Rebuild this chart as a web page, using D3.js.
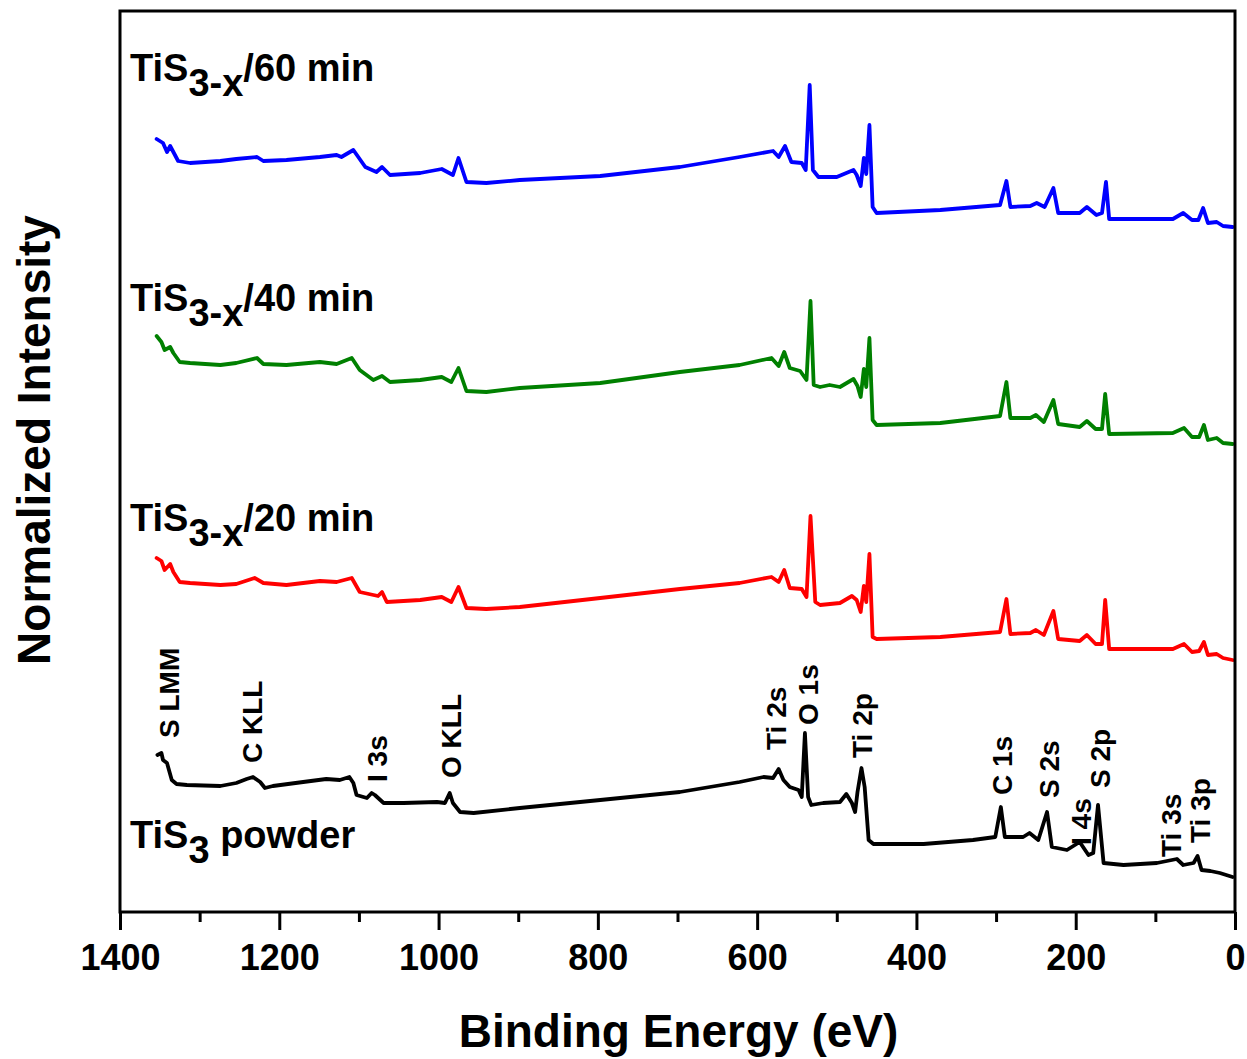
<!DOCTYPE html>
<html>
<head>
<meta charset="utf-8">
<script src="https://cdn.jsdelivr.net/npm/d3@7"></script>
<style>
  html, body { margin: 0; padding: 0; background: #fff; }
  svg { display: block; font-family: "Liberation Sans", Arial, sans-serif; font-weight: bold; }
</style>
</head>
<body>
<svg id="chart" width="1247" height="1059"></svg>
<script>
// XPS survey spectra, [binding energy (eV), intensity (a.u., stacked offsets)]
const powder = [
  [1353,157],[1348,159],[1346,152],[1341,149],[1335,132],[1329,128],[1316,127],[1274,126],
  [1254,129],[1241,133],[1233,135],[1224,130],[1218,124],[1208,126],[1170,130],[1141,133],
  [1124,132],[1112,135],[1107,129],[1103,117],[1090,114],[1084,119],[1080,117],[1069,109],
  [1044,109],[1002,110],[992,109],[986,119],[982,109],[973,100],[956,99],[898,104],
  [797,112],[697,120],[622,130],[592,135],[580,134],[573,143],[567,132],[559,125],
  [548,122],[544,115],[540,179],[536,115],[532,107],[517,109],[496,110],[488,118],
  [481,109],[477,100],[474,120],[469,144],[465,125],[460,72],[454,68],[391,68],
  [329,72],[301,75],[294,105],[289,75],[266,75],[258,79],[247,72],[236,100],
  [230,65],[211,62],[195,70],[184,57],[178,59],[172,107],[165,49],[140,47],
  [98,49],[73,53],[65,47],[52,49],[47,56],[42,42],[31,41],[19,39],[3,35]
];

const min20 = [
  [1354,354],[1348,351],[1344,342],[1337,348],[1333,340],[1325,330],[1312,329],[1274,327],
  [1254,328],[1231,334],[1220,329],[1191,327],[1149,331],[1128,330],[1109,334],[1099,320],
  [1076,316],[1071,320],[1065,310],[1023,312],[996,315],[984,310],[975,325],[965,304],
  [940,303],[898,305],[797,314],[697,323],[622,329],[582,335],[573,330],[566,342],
  [559,324],[544,323],[538,315],[533,396],[527,310],[521,307],[496,309],[481,316],
  [475,312],[470,300],[466,326],[463,310],[459,358],[455,275],[450,273],[370,275],
  [295,280],[287,313],[282,278],[257,279],[250,282],[240,277],[228,301],[222,273],
  [195,271],[186,277],[175,268],[167,268],[163,312],[158,263],[78,263],[64,268],
  [54,260],[45,261],[39,270],[34,257],[23,258],[15,254],[3,252]
];

const min40 = [
  [1354,576],[1348,570],[1344,562],[1337,565],[1333,559],[1325,550],[1312,549],[1274,547],
  [1254,549],[1228,554],[1220,548],[1191,547],[1149,550],[1128,548],[1109,554],[1099,542],
  [1082,532],[1071,536],[1061,530],[1023,532],[996,535],[984,530],[975,544],[965,521],
  [940,520],[898,524],[797,529],[697,540],[622,547],[582,554],[573,546],[566,560],
  [559,544],[546,541],[538,532],[533,611],[529,527],[521,525],[509,527],[496,525],
  [479,533],[474,526],[470,515],[466,543],[463,525],[459,574],[455,492],[450,487],
  [370,489],[295,496],[287,530],[282,494],[257,494],[250,497],[240,490],[228,512],
  [222,488],[195,485],[186,491],[175,483],[167,483],[163,518],[158,478],[78,479],
  [64,484],[54,475],[45,475],[39,487],[34,472],[23,474],[15,469],[3,468]
];

const min60 = [
  [1354,773],[1346,769],[1341,760],[1337,766],[1333,760],[1327,751],[1312,749],[1274,751],
  [1254,753],[1228,755],[1220,751],[1191,752],[1149,755],[1128,757],[1122,755],[1107,762],
  [1092,745],[1078,740],[1071,745],[1061,737],[1023,739],[996,743],[982,737],[975,754],
  [965,730],[940,729],[898,732],[797,736],[697,745],[622,755],[580,761],[573,755],
  [565,766],[557,750],[544,749],[539,742],[534,827],[530,742],[523,735],[500,735],
  [479,742],[475,737],[470,726],[466,754],[463,738],[459,787],[455,705],[450,699],
  [370,702],[295,707],[287,731],[282,705],[257,706],[249,709],[239,705],[228,724],
  [222,699],[195,699],[186,705],[174,697],[167,699],[162,730],[158,693],[119,693],
  [78,693],[65,699],[54,692],[46,692],[40,704],[34,689],[23,690],[15,686],[3,685]
];

const seriesColors = ["#000000", "#ff0000", "#008000", "#0000ff"];
const seriesData   = [powder, min20, min40, min60];

// Sample labels: [prefix, subscript, suffix]
const sampleLabels = [
  ["TiS", "3", " powder"],
  ["TiS", "3-x", "/20 min"],
  ["TiS", "3-x", "/40 min"],
  ["TiS", "3-x", "/60 min"]
];
const sampleLabelBaseline = [848, 531, 311, 81];

// Peak assignments on the powder spectrum: [label, energy (eV), label base intensity]
const peakLabels = [
  ["S LMM", 1339, 174], ["C KLL", 1235, 149], ["I 3s", 1078, 130], ["O KLL", 984, 134],
  ["Ti 2s", 576, 162], ["O 1s", 536, 187], ["Ti 2p", 469, 154],
  ["C 1s", 293, 117], ["S 2s", 234, 114], ["I 4s", 193, 67], ["S 2p", 170, 124],
  ["Ti 3s", 80, 55], ["Ti 3p", 44, 69]
];

const xTicksMajor = [1400, 1200, 1000, 800, 600, 400, 200, 0];
const xTicksMinor = [1300, 1100, 900, 700, 500, 300, 100];

const svg = d3.select("#chart");
const m = { left: 120, right: 1235, top: 11, bottom: 912 };

const x = d3.scaleLinear().domain([1400, 0]).range([m.left, m.right]);
const y = d3.scaleLinear().domain([0, 901]).range([m.bottom, m.top]);

// spectra
const line = d3.line().x(d => x(d[0])).y(d => y(d[1]));
svg.append("g").selectAll("path")
  .data(seriesData)
  .join("path")
  .attr("d", line)
  .attr("fill", "none")
  .attr("stroke", (d, i) => seriesColors[i])
  .attr("stroke-width", 3.8)
  .attr("stroke-linejoin", "round")
  .attr("stroke-linecap", "round");

// frame
svg.append("rect")
  .attr("x", m.left).attr("y", m.top)
  .attr("width", m.right - m.left).attr("height", m.bottom - m.top)
  .attr("fill", "none").attr("stroke", "#000").attr("stroke-width", 3);

// bottom axis: major ticks with labels, minor ticks without
const axMajor = svg.append("g").attr("transform", `translate(0,${m.bottom})`)
  .call(d3.axisBottom(x).tickValues(xTicksMajor).tickSize(18).tickPadding(14).tickFormat(d3.format("d")));
const axMinor = svg.append("g").attr("transform", `translate(0,${m.bottom})`)
  .call(d3.axisBottom(x).tickValues(xTicksMinor).tickSize(10).tickFormat(""));
[axMajor, axMinor].forEach(g => {
  g.select(".domain").remove();
  g.selectAll(".tick line").attr("stroke", "#000").attr("stroke-width", 3);
});
axMajor.selectAll(".tick text")
  .attr("fill", "#000")
  .style("font-size", "36px")
  .style("font-weight", "bold")
  .style("font-family", "'Liberation Sans', Arial, sans-serif");

// axis titles
svg.append("text")
  .attr("x", (m.left + m.right) / 2 + 1).attr("y", 1047)
  .attr("text-anchor", "middle")
  .style("font-size", "46px")
  .text("Binding Energy (eV)");

svg.append("text")
  .attr("transform", "translate(50,440) rotate(-90)")
  .attr("text-anchor", "middle")
  .style("font-size", "46px")
  .text("Normalized Intensity");

// sample labels with subscripts
sampleLabels.forEach((lab, i) => {
  const t = svg.append("text")
    .attr("x", 130).attr("y", sampleLabelBaseline[i])
    .style("font-size", "38px");
  t.append("tspan").text(lab[0]);
  t.append("tspan").attr("dy", 15).text(lab[1]);
  t.append("tspan").attr("dy", -15).text(lab[2]);
});

// peak assignment labels (rotated)
svg.append("g").selectAll("text")
  .data(peakLabels)
  .join("text")
  .attr("transform", d => `translate(${x(d[1])},${y(d[2])}) rotate(-90)`)
  .attr("dy", "0.36em")
  .attr("text-anchor", "start")
  .style("font-size", "28px")
  .text(d => d[0]);
</script>
</body>
</html>
